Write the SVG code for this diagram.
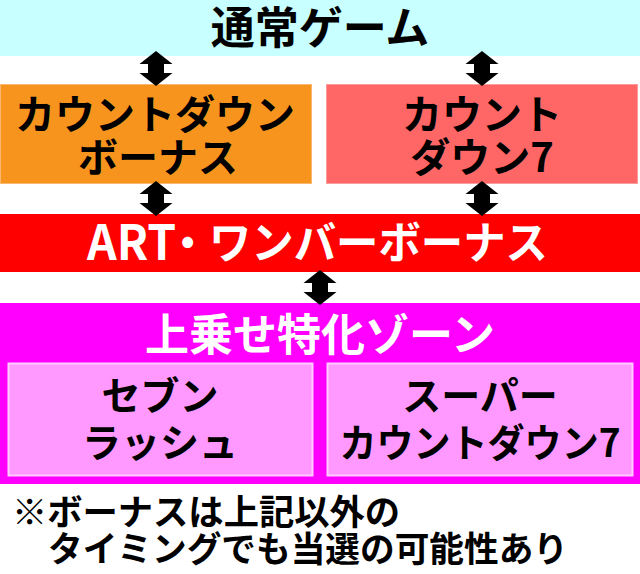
<svg xmlns="http://www.w3.org/2000/svg" xmlns:xlink="http://www.w3.org/1999/xlink" width="640" height="574" viewBox="0 0 640 574">
<style>
  text { font-family: "Noto Sans CJK JP", "Noto Sans CJK SC", sans-serif; font-weight: 700; text-anchor: middle; }
  .dark { fill: #000000; }
  .light { fill: #ffffff; }
  .t44 { font-size: 44px; }
  .t40 { font-size: 40px; }
  .t39 { font-size: 39px; }
  .start { text-anchor: start; }
  .note { font-size: 35px; text-anchor: start; fill: #000000; }
  .arrow { fill: #000000; }
</style>
<defs>
  <path id="dbl" d="M0,-17.5 L16.5,-4.5 L8,-4.5 L8,4.5 L16.5,4.5 L0,17.5 L-16.5,4.5 L-8,4.5 L-8,-4.5 L-16.5,-4.5 Z"/>
</defs>
<rect width="640" height="574" fill="#ffffff"/>

<g id="normal-game">
  <rect x="0" y="0" width="640" height="56" fill="#c8ffff"/>
  <text class="dark t44" x="320" y="44">通常ゲーム</text>
</g>

<g id="countdown-bonus">
  <rect x="0.5" y="84.5" width="311" height="99" fill="#f7941e" stroke="#fbb870" stroke-width="1"/>
  <text class="dark t40"><tspan x="155" y="129">カウントダウン</tspan><tspan x="158" y="172">ボーナス</tspan></text>
</g>

<g id="countdown7">
  <rect x="326.5" y="84.5" width="311" height="99" fill="#ff6666" stroke="#ff9d9d" stroke-width="1"/>
  <text class="dark t40"><tspan x="482" y="129">カウント</tspan><tspan x="482" y="172">ダウン7</tspan></text>
</g>

<g id="art-bonus">
  <rect x="0" y="214" width="640" height="58" fill="#ff0000"/>
  <text class="light t44 start" x="87" y="259" textLength="461" lengthAdjust="spacingAndGlyphs"><tspan font-size="48" dy="1">ART</tspan><tspan dx="-10" dy="-1">・ワンバーボーナス</tspan></text>
</g>

<g id="zone">
  <rect x="0" y="303" width="640" height="181" fill="#ff00ff"/>
  <text class="light t44" x="320" y="351">上乗せ特化ゾーン</text>
</g>

<g id="seven-rush">
  <rect x="8.5" y="363.5" width="304" height="112" fill="#ff99ff" stroke="#ffccff" stroke-width="2"/>
  <text class="dark t39"><tspan x="160" y="410">セブン</tspan><tspan x="160" y="457">ラッシュ</tspan></text>
</g>

<g id="super-countdown7">
  <rect x="327.5" y="363.5" width="305" height="112" fill="#ff99ff" stroke="#ffccff" stroke-width="2"/>
  <text class="dark t39"><tspan x="480" y="410">スーパー</tspan><tspan x="480" y="457" textLength="281" lengthAdjust="spacingAndGlyphs">カウントダウン7</tspan></text>
</g>

<g id="note">
  <text class="note"><tspan x="12" y="525" textLength="388" lengthAdjust="spacingAndGlyphs">※ボーナスは上記以外の</tspan><tspan x="48" y="562" textLength="520" lengthAdjust="spacingAndGlyphs">タイミングでも当選の可能性あり</tspan></text>
</g>

<g id="connectors">
  <use xlink:href="#dbl" class="arrow" x="156" y="68.5"/>
  <use xlink:href="#dbl" class="arrow" x="482" y="68.5"/>
  <use xlink:href="#dbl" class="arrow" x="156" y="198.5"/>
  <use xlink:href="#dbl" class="arrow" x="482" y="198.5"/>
  <use xlink:href="#dbl" class="arrow" x="320" y="287.5"/>
</g>
</svg>
